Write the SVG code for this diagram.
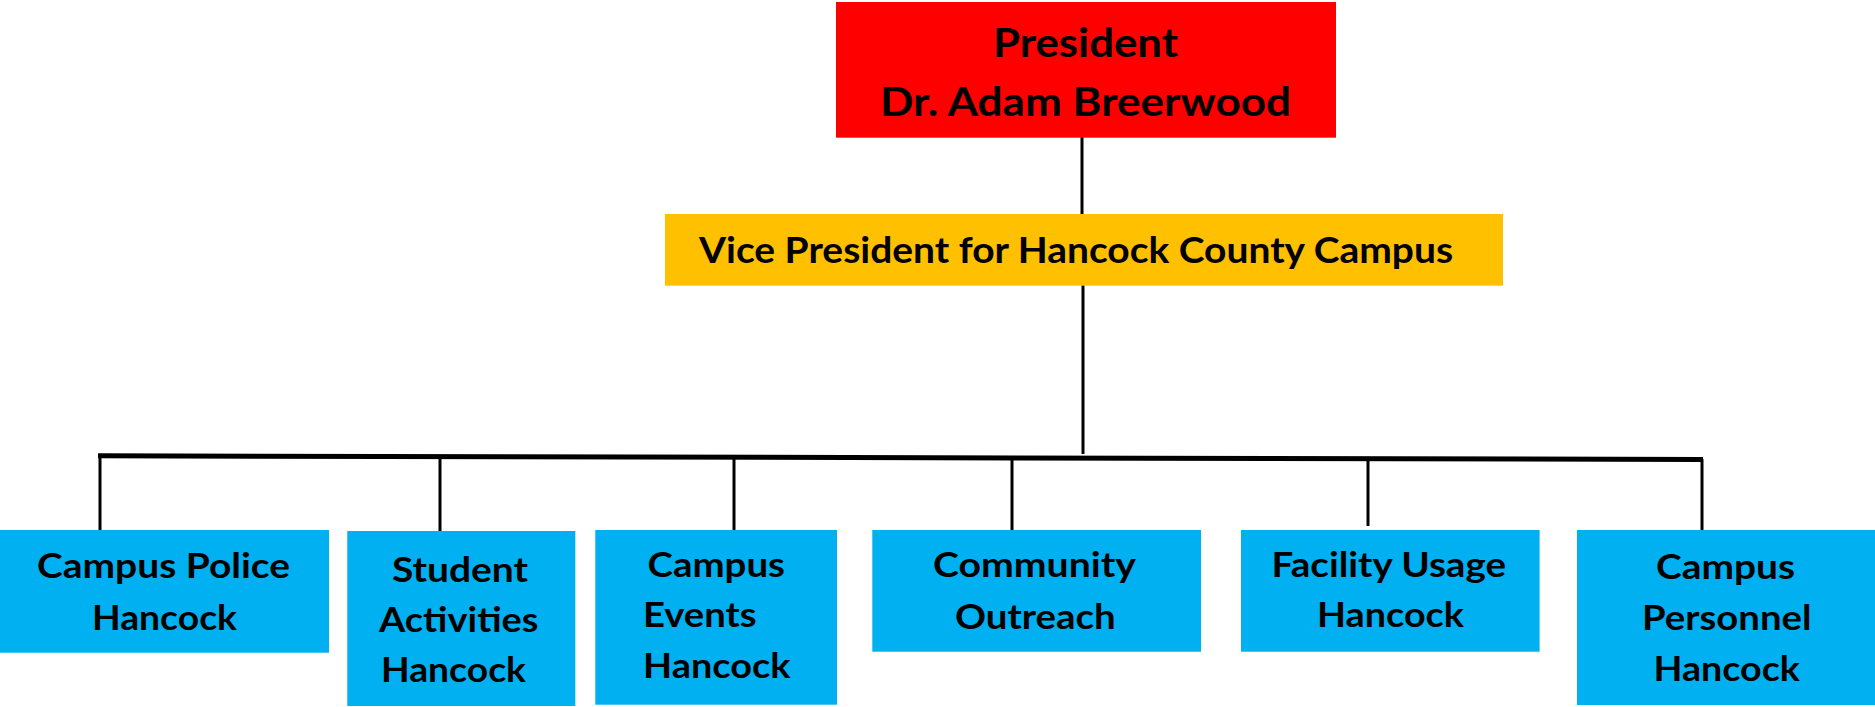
<svg xmlns="http://www.w3.org/2000/svg" width="1875" height="707" viewBox="0 0 1875 707">
<style>
.t{font-family:Lato,"Liberation Sans",sans-serif;font-weight:bold;fill:#000}
.top{font-size:40px}
.vp{font-size:36px}
.sm{font-size:34px}
.ln{stroke:#000;stroke-width:3;fill:none}
</style>
<rect width="1875" height="707" fill="#fff"/>
<g id="connectors">
<line class="ln" x1="1082" y1="137" x2="1082" y2="215"/>
<line class="ln" x1="1083" y1="285" x2="1083" y2="454"/>
<line x1="98" y1="455.8" x2="1703" y2="459.5" stroke="#000" stroke-width="5"/>
<line class="ln" x1="100" y1="456" x2="100" y2="531"/>
<line class="ln" x1="440" y1="456" x2="440" y2="537"/>
<line class="ln" x1="734" y1="457" x2="734" y2="531"/>
<line class="ln" x1="1012" y1="458" x2="1012" y2="531"/>
<line class="ln" x1="1368" y1="458" x2="1368" y2="526"/>
<line class="ln" x1="1702" y1="459" x2="1702" y2="531"/>
</g>
<g id="president">
<rect x="836" y="2" width="500" height="135.7" fill="#FF0000"/>
<text class="t top" x="993" y="56.7" textLength="185" lengthAdjust="spacingAndGlyphs">President</text>
<text class="t top" x="880" y="115.7" textLength="411" lengthAdjust="spacingAndGlyphs">Dr. Adam Breerwood</text>
</g>
<g id="vice-president">
<rect x="665" y="214" width="838" height="71.7" fill="#FFC000"/>
<text class="t vp" x="699" y="263" textLength="754" lengthAdjust="spacingAndGlyphs">Vice President for Hancock County Campus</text>
</g>
<g id="campus-police">
<rect x="0" y="530" width="329" height="122.7" fill="#00B0F0"/>
<text class="t sm" x="37" y="578.3" textLength="253" lengthAdjust="spacingAndGlyphs">Campus Police</text>
<text class="t sm" x="92" y="630" textLength="145" lengthAdjust="spacingAndGlyphs">Hancock</text>
</g>
<g id="student-activities">
<rect x="347.3" y="531" width="228" height="175" fill="#00B0F0"/>
<text class="t sm" x="392" y="581.7" textLength="136" lengthAdjust="spacingAndGlyphs">Student</text>
<text class="t sm" x="379" y="631.7" textLength="159.5" lengthAdjust="spacingAndGlyphs">Activities</text>
<text class="t sm" x="381" y="681.7" textLength="145" lengthAdjust="spacingAndGlyphs">Hancock</text>
</g>
<g id="campus-events">
<rect x="595.3" y="530" width="241.7" height="174.7" fill="#00B0F0"/>
<text class="t sm" x="647.5" y="576.7" textLength="137.5" lengthAdjust="spacingAndGlyphs">Campus</text>
<text class="t sm" x="643" y="626.7" textLength="113.6" lengthAdjust="spacingAndGlyphs">Events</text>
<text class="t sm" x="643" y="678.3" textLength="147.5" lengthAdjust="spacingAndGlyphs">Hancock</text>
</g>
<g id="community-outreach">
<rect x="872.3" y="530" width="328.7" height="121.7" fill="#00B0F0"/>
<text class="t sm" x="933" y="577.3" textLength="203" lengthAdjust="spacingAndGlyphs">Community</text>
<text class="t sm" x="955" y="629" textLength="160.7" lengthAdjust="spacingAndGlyphs">Outreach</text>
</g>
<g id="facility-usage">
<rect x="1241" y="530" width="298.6" height="121.7" fill="#00B0F0"/>
<text class="t sm" x="1271.6" y="576.7" textLength="234.4" lengthAdjust="spacingAndGlyphs">Facility Usage</text>
<text class="t sm" x="1317" y="626.7" textLength="147" lengthAdjust="spacingAndGlyphs">Hancock</text>
</g>
<g id="campus-personnel">
<rect x="1577" y="530" width="298" height="175" fill="#00B0F0"/>
<text class="t sm" x="1656" y="579" textLength="139" lengthAdjust="spacingAndGlyphs">Campus</text>
<text class="t sm" x="1642" y="630" textLength="169.5" lengthAdjust="spacingAndGlyphs">Personnel</text>
<text class="t sm" x="1653.5" y="680.7" textLength="146.5" lengthAdjust="spacingAndGlyphs">Hancock</text>
</g>
</svg>
